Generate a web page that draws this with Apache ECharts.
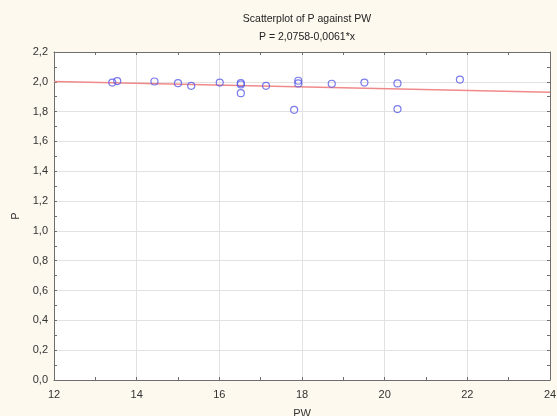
<!DOCTYPE html>
<html>
<head>
<meta charset="utf-8">
<script src="https://cdn.jsdelivr.net/npm/echarts@6/dist/echarts.min.js"></script>
<style>html,body{margin:0;padding:0;background:#fdf9ef;}#c{width:557px;height:416px;}</style>
</head>
<body>
<div id="c"></div>
<script>
var pw = [13.41, 13.53, 14.43, 15.0, 15.32, 16.01, 16.52, 16.52, 16.52, 17.13, 17.81, 17.91, 17.91, 18.72, 19.51, 20.31, 20.31, 21.82];
var p  = [1.995, 2.005, 2.002, 1.991, 1.973, 1.995, 1.991, 1.982, 1.924, 1.973, 1.812, 2.007, 1.989, 1.987, 1.995, 1.989, 1.817, 2.015];
var intercept = 2.0758;
var slope = -0.0061;
var lineX = [12, 24];
var titleText = 'Scatterplot of P against PW';
var subText = 'P = 2,0758-0,0061*x';

var pts = pw.map(function(x, i){ return [x, p[i]]; });
var linePts = lineX.map(function(x){ return [x, intercept + slope * x]; });
var fontFam = '"Liberation Sans", Arial, sans-serif';
var comma = function(dec){ return function(v){ return v.toFixed(dec).replace('.', ','); }; };

var chart = echarts.init(document.getElementById('c'), null, {renderer:'canvas'});
chart.setOption({
  backgroundColor: '#fdf9ef',
  animation: false,
  title: [
    {text: titleText, left: 302, top: 9, textAlign: 'center',
     textStyle: {fontSize: 10.5, fontWeight: 'normal', color: '#222', fontFamily: fontFam}},
    {text: subText, left: 302, top: 27, textAlign: 'center',
     textStyle: {fontSize: 10.5, fontWeight: 'normal', color: '#222', fontFamily: fontFam}}
  ],
  grid: {left: 54, right: 7, top: 52, bottom: 36, containLabel: false, outerBoundsMode: 'none',
         show: true, backgroundColor: '#ffffff', borderWidth: 0},
  xAxis: [{
    type: 'value', min: 12, max: 24, interval: 2, position: 'bottom',
    name: 'PW', nameLocation: 'middle', nameGap: 28,
    nameTextStyle: {fontSize: 11, color: '#333', fontFamily: fontFam},
    axisLine: {show: true, onZero: false, lineStyle: {color: '#6e6e6e', width: 1}},
    axisTick: {show: true, inside: true, length: 3, lineStyle: {color: '#6e6e6e'}},
    minorTick: {show: true, splitNumber: 2, length: 3, lineStyle: {color: '#6e6e6e'}},
    axisLabel: {fontSize: 11, color: '#333', margin: 9, fontFamily: fontFam, formatter: comma(0)},
    splitLine: {show: true, lineStyle: {color: '#e2e2e2', width: 1}}
  }, {
    type: 'value', min: 12, max: 24, interval: 2, position: 'top',
    axisLine: {show: true, onZero: false, lineStyle: {color: '#6e6e6e', width: 1}},
    axisTick: {show: true, inside: true, length: 3, lineStyle: {color: '#6e6e6e'}},
    minorTick: {show: true, splitNumber: 2, length: 3, lineStyle: {color: '#6e6e6e'}},
    axisLabel: {show: false}, splitLine: {show: false}
  }],
  yAxis: [{
    type: 'value', min: 0, max: 2.2, interval: 0.2, position: 'left',
    name: 'P', nameLocation: 'middle', nameGap: 30, nameRotate: 90,
    nameTextStyle: {fontSize: 11, color: '#333', fontFamily: fontFam},
    axisLine: {show: true, onZero: false, lineStyle: {color: '#6e6e6e', width: 1}},
    axisTick: {show: true, inside: true, length: 3, lineStyle: {color: '#6e6e6e'}},
    minorTick: {show: true, splitNumber: 2, length: 3, lineStyle: {color: '#6e6e6e'}},
    axisLabel: {fontSize: 11, color: '#333', margin: 6, fontFamily: fontFam, formatter: comma(1)},
    splitLine: {show: true, lineStyle: {color: '#e2e2e2', width: 1}}
  }, {
    type: 'value', min: 0, max: 2.2, interval: 0.2, position: 'right',
    axisLine: {show: true, onZero: false, lineStyle: {color: '#6e6e6e', width: 1}},
    axisTick: {show: true, inside: true, length: 3, lineStyle: {color: '#6e6e6e'}},
    minorTick: {show: true, splitNumber: 2, length: 3, lineStyle: {color: '#6e6e6e'}},
    axisLabel: {show: false}, splitLine: {show: false}
  }],
  series: [{
    type: 'line', data: linePts, xAxisIndex: 0, yAxisIndex: 0,
    showSymbol: false, lineStyle: {color: '#f08a8a', width: 1.5}, z: 2
  }, {
    type: 'scatter', data: pts, xAxisIndex: 0, yAxisIndex: 0,
    symbol: 'circle', symbolSize: 7,
    itemStyle: {color: 'rgba(255,255,255,0)', borderColor: '#5a5ae6', borderWidth: 1.2}, z: 3
  }]
});
</script>
</body>
</html>
